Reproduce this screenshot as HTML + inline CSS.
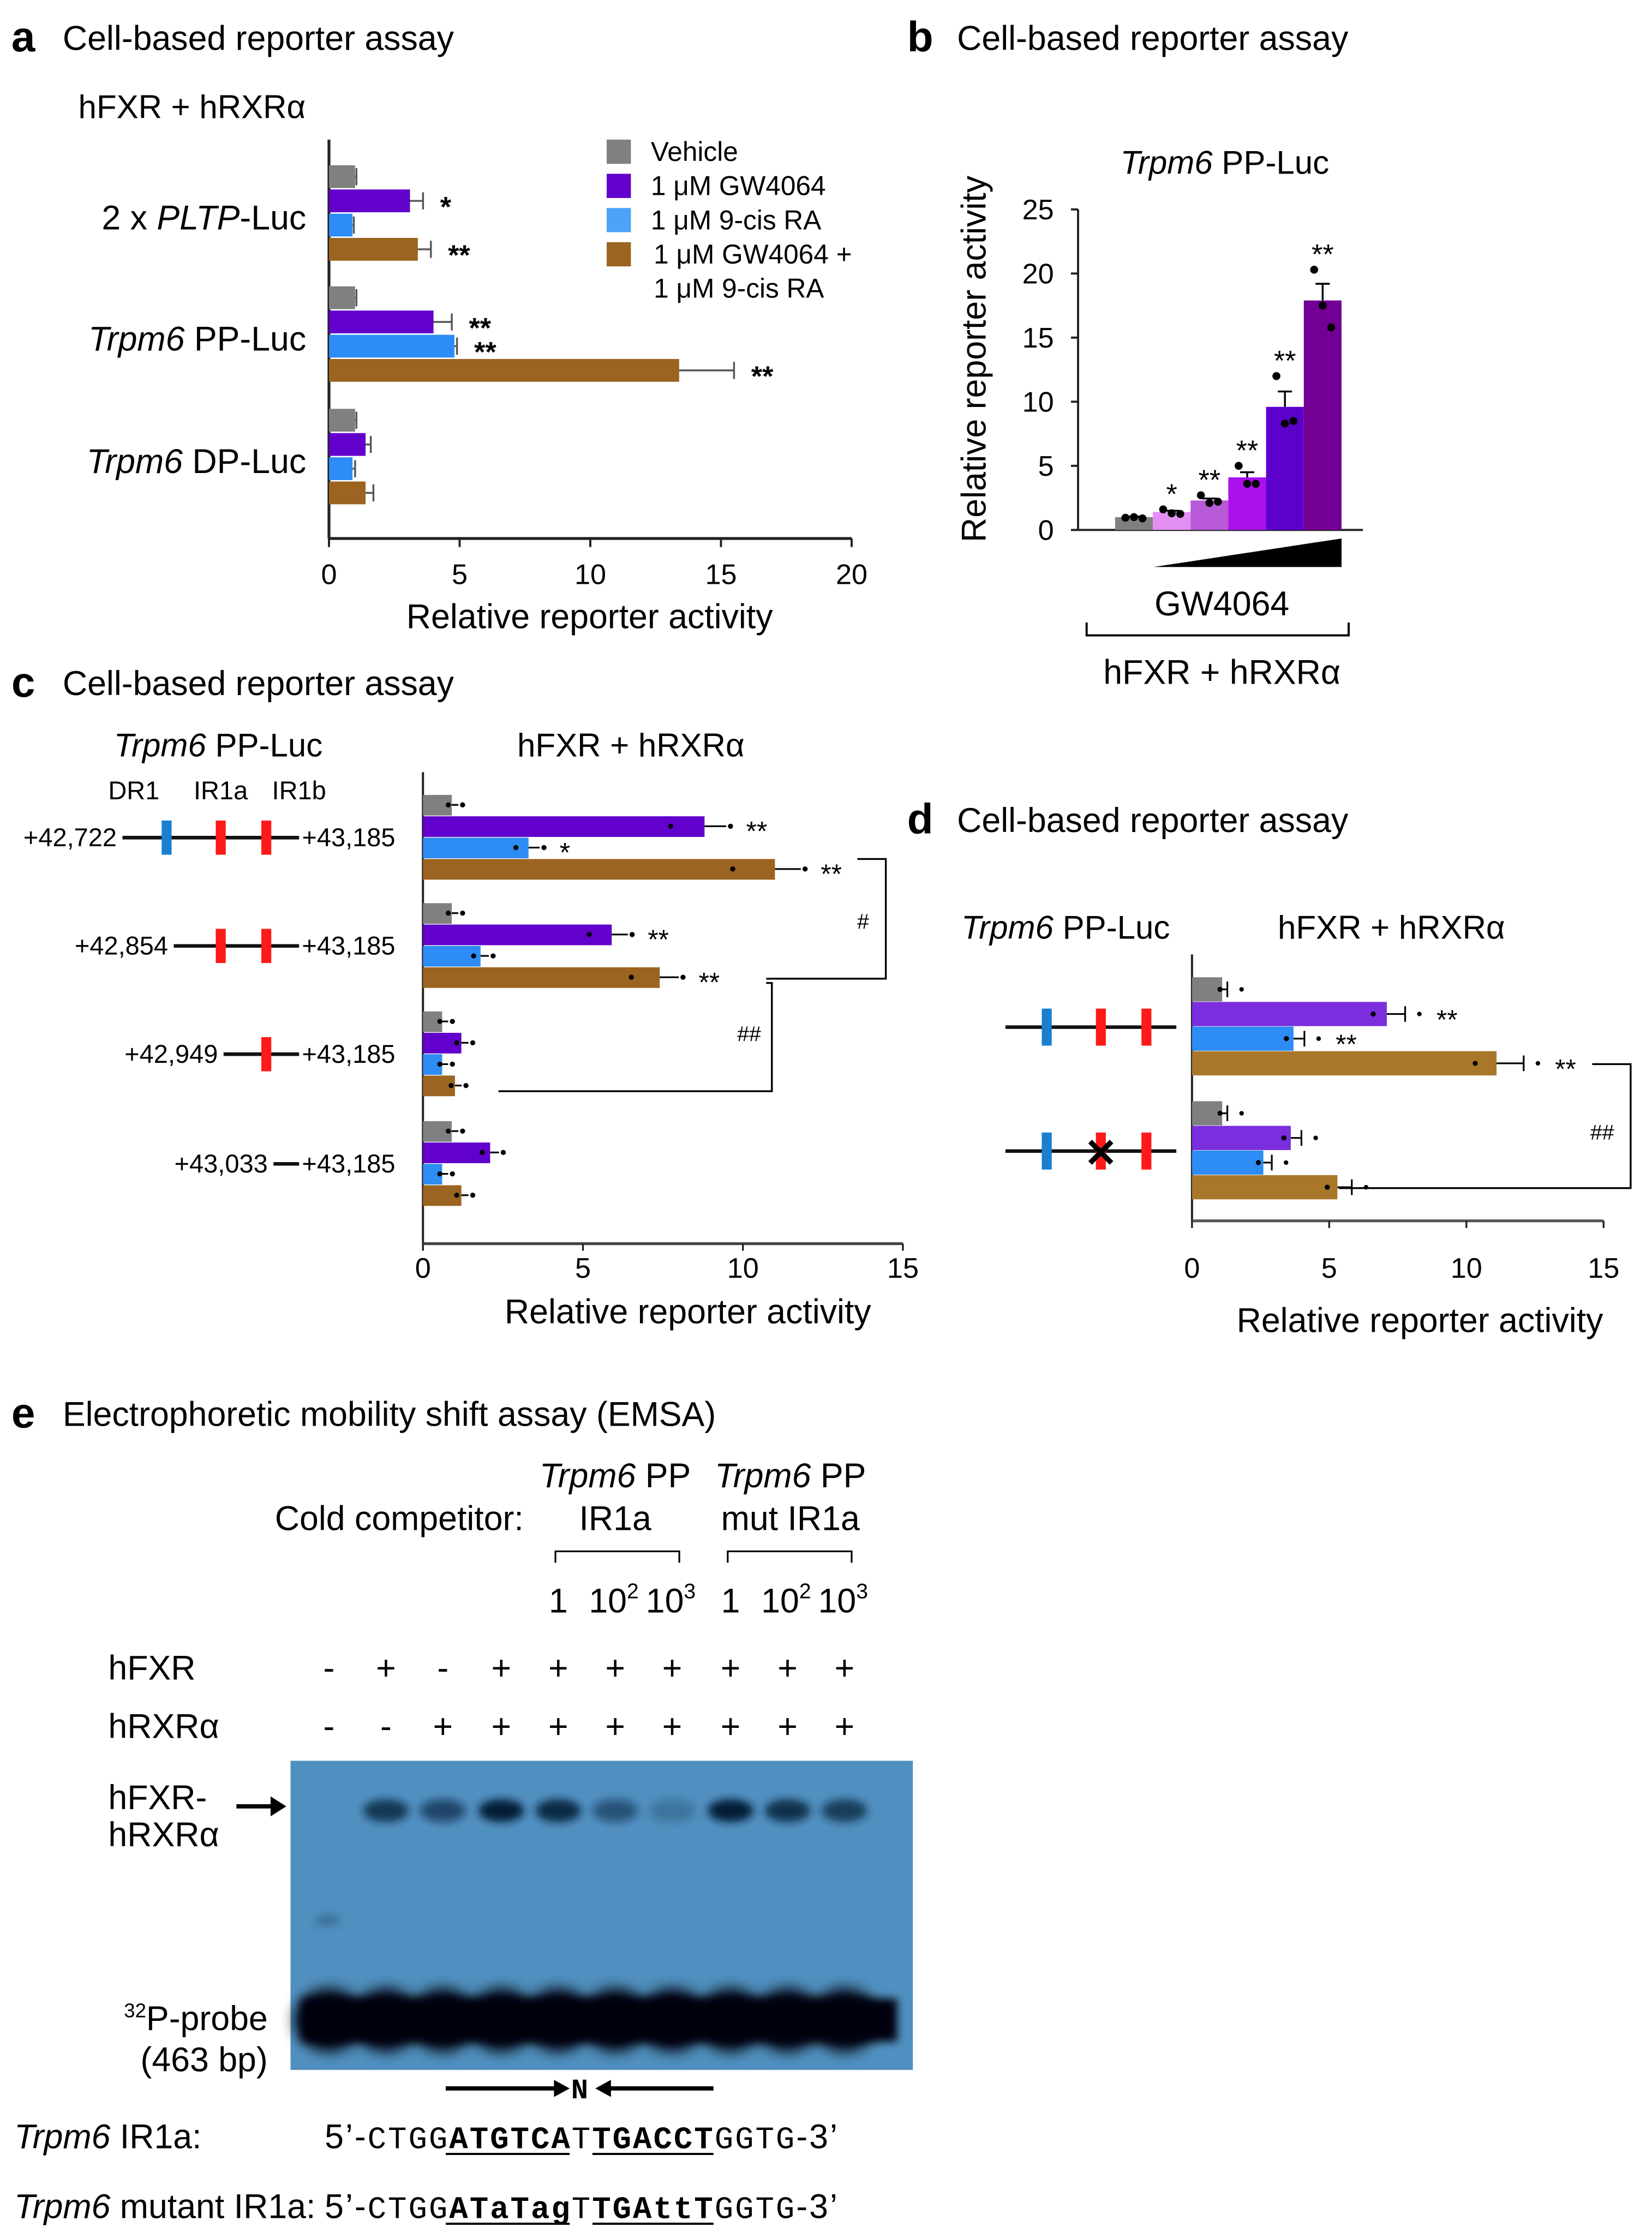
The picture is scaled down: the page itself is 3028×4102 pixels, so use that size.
<!DOCTYPE html>
<html><head><meta charset="utf-8"><style>
html,body{margin:0;padding:0;background:#fff;}
svg{display:block;font-family:"Liberation Sans",Arial,sans-serif;}
</style></head><body>
<svg id="fig" width="3028" height="4102" viewBox="0 0 1160 1571" preserveAspectRatio="none" xmlns="http://www.w3.org/2000/svg">
<defs>
<filter id="blur3" x="-20%" y="-50%" width="140%" height="200%"><feGaussianBlur stdDeviation="3"/></filter>
<filter id="blur5" x="-20%" y="-50%" width="140%" height="200%"><feGaussianBlur stdDeviation="5"/></filter>
</defs>
<g id="root"></g>
</svg>
<script>
// ---------- Panel a data ----------
const aGroups = ["2 x PLTP-Luc","Trpm6 PP-Luc","Trpm6 DP-Luc"];
const aVehicle = [1.0, 1.0, 1.0];
const aGW = [3.1, 4.0, 1.4];
const aRA = [0.9, 4.8, 0.9];
const aCombo = [3.4, 13.4, 1.4];
const aErr = [[1.05,3.6,0.95,3.9],[1.05,4.7,4.9,15.5],[1.05,1.6,1.0,1.7]];
const aStars = [["","*","","**"],["","**","**","**"],["","","",""]];
const aTicks = [0,5,10,15,20];
// ---------- Panel b data ----------
const bValues = [1.0, 1.4, 2.3, 4.1, 9.6, 17.9];
const bErrTop = [1.05, 1.5, 2.45, 4.5, 10.8, 19.2];
const bDots = [[0.95,1.0,0.9],[1.6,1.3,1.25],[2.7,2.1,2.2],[5.0,3.6,3.6],[12.0,8.3,8.5],[20.3,17.5,15.8]];
const bStars = ["","*","**","**","**","**"];
const bTicks = [0,5,10,15,20,25];
// ---------- Panel c data ----------
const cConstructs = ["+42,722","+42,854","+42,949","+43,033"];
const cVehicle = [0.9, 0.9, 0.6, 0.9];
const cGW = [8.8, 5.9, 1.2, 2.1];
const cRA = [3.3, 1.8, 0.6, 0.6];
const cCombo = [11.0, 7.4, 1.0, 1.2];
const cTicks = [0,5,10,15];
// ---------- Panel d data ----------
const dVehicle = [1.1, 1.1];
const dGW = [7.1, 3.6];
const dRA = [3.7, 2.6];
const dCombo = [11.1, 5.3];
const dTicks = [0,5,10,15];
// ---------- Panel e data ----------
const eFXR = ["-","+","-","+","+","+","+","+","+","+"];
const eRXR = ["-","-","+","+","+","+","+","+","+","+"];
const eShift = [0, 0.75, 0.6, 0.95, 0.85, 0.5, 0.25, 0.95, 0.8, 0.7];

const NS="http://www.w3.org/2000/svg";
const root=document.getElementById('root');
function el(tag,attrs,parent,text){const e=document.createElementNS(NS,tag);for(const k in attrs)e.setAttribute(k,attrs[k]);if(text!==undefined)e.textContent=text;(parent||root).appendChild(e);return e;}
function txt(x,y,s,size,anchor,name,extra){const t=el('text',Object.assign({x:x,y:y,'font-size':size,'text-anchor':anchor||'start',fill:'#000'},extra||{}),root,s);


return t;}
function line(x1,y1,x2,y2,name,w,c){const l=el('line',{x1:x1,y1:y1,x2:x2,y2:y2,stroke:c||'#000','stroke-width':w||1.5});


return l;}

// ===== Panel a =====
txt(8,36,"a",30,"start","panel-a-letter",{'font-weight':'bold'});
txt(44,35,"Cell-based reporter assay",24,"start","panel-a-title");
txt(55,83,"hFXR + hRXRα",23,"start","panel-a-subtitle");
const aX0=231,aX1=598,aMax=20,aY=378;
const ax=v=>aX0+(aX1-aX0)*v/aMax;
line(aX0,98,aX0,aY,"a-y-axis",2,'#222');
line(aX0,aY,aX1,aY,"a-x-axis",2,'#222');
aTicks.forEach(t=>{line(ax(t),aY,ax(t),aY+6,"a-x-tick",1.5,'#222');txt(ax(t),410,String(t),20,"middle","a-x-tick-label");});
txt(414,441,"Relative reporter activity",24,"middle","a-x-axis-title");
const aCols=["#808080","#6200cc","#2d8cf5","#9b6420"];
const aSeries=[aVehicle,aGW,aRA,aCombo];
const aGroupTop=[116,201,287];
aGroups.forEach((g,gi)=>{
  const ly=aGroupTop[gi]+45;
  const t=el('text',{x:215,y:ly,'font-size':24,'text-anchor':'end'});
  
  
  if(gi===0){el('tspan',{},t,"2 x ");el('tspan',{'font-style':'italic'},t,"PLTP");el('tspan',{},t,"-Luc");}
  else{el('tspan',{'font-style':'italic'},t,"Trpm6");el('tspan',{},t,gi===1?" PP-Luc":" DP-Luc");}
  aSeries.forEach((s,si)=>{
    const y=aGroupTop[gi]+si*17;
    const r=el('rect',{x:aX0,y:y,width:ax(s[gi])-aX0,height:16,fill:aCols[si]});
    
    
    const e=aErr[gi][si];
    line(ax(s[gi]),y+8,ax(e),y+8,"a-error-bar",1.3,'#555');
    line(ax(e),y+2,ax(e),y+14,"a-error-cap",1.3,'#555');
    if(aStars[gi][si]) txt(ax(e)+12,y+19,aStars[gi][si],20,"start","a-significance",{'font-weight':'bold'});
  });
});
const legItems=[["Vehicle",aCols[0]],["1 μM GW4064",aCols[1]],["1 μM 9-cis RA","#4da3f7"],["1 μM GW4064 +",aCols[3]]];
const legY=[98,122,146,170];
legItems.forEach((li,i)=>{const r=el('rect',{x:426,y:legY[i],width:17,height:17,fill:li[1]});


txt(i===3?459:457,legY[i]+15,li[0],19,"start","legend-entry");});
txt(459,209,"1 μM 9-cis RA",19,"start","legend-entry-cont");

// ===== Panel b =====
txt(637,36,"b",30,"start","panel-b-letter",{'font-weight':'bold'});
txt(672,35,"Cell-based reporter assay",24,"start","panel-b-title");
{const t=el('text',{x:860,y:122,'font-size':23,'text-anchor':'middle'});el('tspan',{'font-style':'italic'},t,"Trpm6");el('tspan',{},t," PP-Luc");}
const bX0=757,bY0=372,bY1=147,bMax=25;
const by=v=>bY0-(bY0-bY1)*v/bMax;
line(bX0,bY1,bX0,bY0,"b-y-axis",1.5,'#222');
line(bX0,bY0,957,bY0,"b-x-axis",1.5,'#222');
bTicks.forEach(t=>{line(bX0-5,by(t),bX0,by(t),"b-y-tick",1.5,'#222');txt(740,by(t)+7,String(t),20,"end","b-y-tick-label");});
{const t=txt(692,252,"Relative reporter activity",24,"middle","b-y-axis-title");t.setAttribute('transform','rotate(-90 692 252)');}
const bCols=["#808080","#e28ef2","#b85ad8","#ac10ec","#5c00cc","#730094"];
bValues.forEach((v,i)=>{
  const x=783+i*26.5,w=26.5;
  const r=el('rect',{x:x,y:by(v),width:w,height:bY0-by(v),fill:bCols[i]});
  
  
  const cx=x+w/2;
  line(cx,by(v),cx,by(bErrTop[i]),"b-error-bar",1.3,'#000');
  line(cx-5,by(bErrTop[i]),cx+5,by(bErrTop[i]),"b-error-cap",1.3,'#000');
  bDots[i].forEach((d,j)=>{const c=el('circle',{cx:cx+(j-1)*6,cy:by(d),r:2.8,fill:'#000'});
  
  });
  const top=Math.max(bErrTop[i],...bDots[i]);
  if(bStars[i]) txt(cx,by(top)-4,bStars[i],20,"middle","b-significance");
});
{const p=el('polygon',{points:"810,398 942,378 942,398",fill:'#000'});}
txt(858,432,"GW4064",24,"middle","b-gw4064-label");
{const p=el('path',{d:"M763,437 V446 H947 V437",fill:'none',stroke:'#000','stroke-width':1.5});}
txt(858,480,"hFXR + hRXRα",24,"middle","b-bottom-label");

// ===== Panel c =====
txt(8,489,"c",30,"start","panel-c-letter",{'font-weight':'bold'});
txt(44,488,"Cell-based reporter assay",24,"start","panel-c-title");
{const t=el('text',{x:80,y:531,'font-size':23});el('tspan',{'font-style':'italic'},t,"Trpm6");el('tspan',{},t," PP-Luc");}
txt(443,531,"hFXR + hRXRα",23,"middle","c-chart-title");
txt(94,561,"DR1",18,"middle","dr1-label");
txt(155,561,"IR1a",18,"middle","ir1a-label");
txt(210,561,"IR1b",18,"middle","ir1b-label");
const cX0=297,cX1=634,cMax=15,cY=873;
const cx_=v=>cX0+(cX1-cX0)*v/cMax;
line(cX0,542,cX0,cY,"c-y-axis",1.5,'#222');
line(cX0,cY,cX1,cY,"c-x-axis",2,'#444');
cTicks.forEach(t=>{line(cx_(t),cY,cx_(t),cY+5,"c-x-tick",1.3,'#222');txt(cx_(t),897,String(t),20,"middle","c-x-tick-label");});
txt(483,929,"Relative reporter activity",24,"middle","c-x-axis-title");
const cCols=["#808080","#6200cc","#2d8cf5","#9b6420"];
const cSeries=[cVehicle,cGW,cRA,cCombo];
const cTop=[558,634,710,787];
const cStar=[["","**","*","**"],["","**","","**"],["","","",""],["","","",""]];
cConstructs.forEach((lab,gi)=>{
  cSeries.forEach((s,si)=>{
    const y=cTop[gi]+si*15;
    const r=el('rect',{x:cX0,y:y,width:cx_(s[gi])-cX0,height:14.5,fill:cCols[si]});
    
    
    const ex=cx_(s[gi]*1.06+0.15);
    line(cx_(s[gi]),y+7,ex,y+7,"c-error-bar",1.2,'#000');
    const d1=el('circle',{cx:cx_(s[gi]*0.88),cy:y+7,r:1.8,fill:'#000'});
    const d2=el('circle',{cx:ex+3,cy:y+7,r:1.8,fill:'#000'});
    if(cStar[gi][si]) txt(ex+14,y+17,cStar[gi][si],19,"start","c-significance");
  });
  const ly=cTop[gi]+30;
  const startX=[86,122,157,192][gi];
  txt(startX-4,ly+6,lab,18,"end","c-construct-start");
  line(startX,ly,210,ly,"c-construct-line",2.5,'#111');
  txt(212,ly+6,"+43,185",18,"start","c-construct-end");
  const boxes=[[["#1a7fcf",117],["#ff1a1a",155],["#ff1a1a",187]],[["#ff1a1a",155],["#ff1a1a",187]],[["#ff1a1a",187]],[]][gi];
  boxes.forEach(b=>{const r=el('rect',{x:b[1]-3.5,y:ly-12,width:7,height:24,fill:b[0]});});
});
{const p=el('path',{d:"M602,603 H622 V687 H538",fill:'none',stroke:'#000','stroke-width':1.3});}
txt(606,652,"#",15,"middle","c-hash");
{const p=el('path',{d:"M538,690 H542 V766 H350",fill:'none',stroke:'#000','stroke-width':1.3});}
txt(526,731,"##",15,"middle","c-double-hash");

// ===== Panel d =====
txt(637,585,"d",30,"start","panel-d-letter",{'font-weight':'bold'});
txt(672,584,"Cell-based reporter assay",24,"start","panel-d-title");
{const t=el('text',{x:675,y:659,'font-size':23});el('tspan',{'font-style':'italic'},t,"Trpm6");el('tspan',{},t," PP-Luc");}
txt(977,659,"hFXR + hRXRα",23,"middle","d-chart-title");
const dX0=837,dX1=1126,dMax=15,dY=857;
const dx=v=>dX0+(dX1-dX0)*v/dMax;
line(dX0,670,dX0,dY,"d-y-axis",1.5,'#222');
line(dX0,dY,dX1,dY,"d-x-axis",2,'#555');
dTicks.forEach(t=>{line(dx(t),dY,dx(t),dY+5,"d-x-tick",1.3,'#222');txt(dx(t),897,String(t),20,"middle","d-x-tick-label");});
txt(997,935,"Relative reporter activity",24,"middle","d-x-axis-title");
const dCols=["#808080","#7a2ede","#2d8cf5","#a8772a"];
const dSeries=[dVehicle,dGW,dRA,dCombo];
const dTop=[686,773];
const dStar=[["","**","**","**"],["","","",""]];
[0,1].forEach(gi=>{
  dSeries.forEach((s,si)=>{
    const y=dTop[gi]+si*17.3;
    const r=el('rect',{x:dX0,y:y,width:dx(s[gi])-dX0,height:17,fill:dCols[si]});
    
    
    const ex=dx(s[gi]*1.08+0.1);
    line(dx(s[gi]),y+8.5,ex,y+8.5,"d-error-bar",1.2,'#000');
    line(ex,y+3,ex,y+14,"d-error-cap",1.2,'#000');
    const d1=el('circle',{cx:dx(s[gi]*0.93),cy:y+8.5,r:1.8,fill:'#000'});
    const d2=el('circle',{cx:ex+10,cy:y+8.5,r:1.6,fill:'#000'});
    if(dStar[gi][si]) txt(ex+22,y+19,dStar[gi][si],19,"start","d-significance");
  });
  const ly=[721,808][gi];
  line(706,ly,826,ly,"d-construct-line",2.5,'#111');
  [["#1a7fcf",735],["#ff1a1a",773],["#ff1a1a",805]].forEach(b=>{const r=el('rect',{x:b[1]-3.5,y:ly-13,width:7,height:26,fill:b[0]});});
  if(gi===1){txt(773,819,"✕",28,"middle","mutation-mark",{'font-weight':'bold'});}
});
{const p=el('path',{d:"M1118,747 H1145 V834 H940",fill:'none',stroke:'#000','stroke-width':1.3});}
txt(1125,800,"##",15,"middle","d-double-hash");

// ===== Panel e =====
txt(8,1002,"e",30,"start","panel-e-letter",{'font-weight':'bold'});
txt(44,1001,"Electrophoretic mobility shift assay (EMSA)",24,"start","panel-e-title");
txt(193,1074,"Cold competitor:",24,"start","cold-competitor-label");
[[432,"IR1a"],[555,"mut IR1a"]].forEach(c=>{
  const t=el('text',{x:c[0],y:1044,'font-size':24,'text-anchor':'middle'});
  el('tspan',{'font-style':'italic'},t,"Trpm6");el('tspan',{},t," PP");
  txt(c[0],1074,c[1],24,"middle","competitor-name-line2");
});
[[390,477],[511,598]].forEach(b=>{const p=el('path',{d:`M${b[0]},1097 V1089 H${b[1]} V1097`,fill:'none',stroke:'#000','stroke-width':1.2});});
const laneX=[231,271,311,352,392,432,472,513,553,593];
const doses=[["1",""],["10","2"],["10","3"]];
[4,5,6,7,8,9].forEach((li,k)=>{const d=doses[k%3];const t=el('text',{x:laneX[li]+(k%3?-1:0),y:1132,'font-size':24,'text-anchor':'middle'});el('tspan',{},t,d[0]);if(d[1])el('tspan',{'font-size':15,dy:-10},t,d[1]);});
txt(76,1179,"hFXR",24,"start","hfxr-row-label");
txt(76,1220,"hRXRα",24,"start","hrxr-row-label");
laneX.forEach((x,i)=>{txt(x,1179,eFXR[i],24,"middle","hfxr-lane-sign");txt(x,1220,eRXR[i],24,"middle","hrxr-lane-sign");});
{const r=el('rect',{x:204,y:1236,width:437,height:217,fill:'#5090c0'});}
eShift.forEach((s,i)=>{if(s>0){const e=el('ellipse',{cx:laneX[i],cy:1271,rx:16,ry:8,fill:'#001830','fill-opacity':s,filter:'url(#blur3)'});}});
{const e=el('ellipse',{cx:230,cy:1348,rx:9,ry:4,fill:'#2a5070','fill-opacity':0.5,filter:'url(#blur3)'});}
laneX.forEach((x,i)=>{const e=el('ellipse',{cx:x,cy:1418,rx:24,ry:22,fill:'#000511',filter:'url(#blur5)'});});
{const r=el('rect',{x:212,y:1403,width:418,height:30,fill:'#000511',filter:'url(#blur3)'});}
txt(76,1270,"hFXR-",24,"start","complex-label-1");
txt(76,1296,"hRXRα",24,"start","complex-label-2");
line(166,1268,193,1268,"complex-arrow",3,'#000');
{const p=el('polygon',{points:"201,1268 190,1261 190,1275",fill:'#000'});}
{const t=el('text',{x:188,y:1425,'font-size':24,'text-anchor':'end'});el('tspan',{'font-size':14,dy:-9},t,"32");el('tspan',{dy:9},t,"P-probe");}
txt(188,1454,"(463 bp)",24,"end","probe-size-label");
line(313,1466,392,1466,"half-site-arrow-left",3,'#000');
{const p=el('polygon',{points:"400,1466 389,1460 389,1472",fill:'#000'});}
txt(407,1473,"N",20,"middle","spacer-n",{'font-family':'Liberation Mono, monospace','font-weight':'bold'});
line(426,1466,501,1466,"half-site-arrow-right",3,'#000');
{const p=el('polygon',{points:"418,1466 429,1460 429,1472",fill:'#000'});}
function seqLine(y,label,parts,name){
  const l=el('text',{x:10,y:y,'font-size':24});
  el('tspan',{'font-style':'italic'},l,"Trpm6");el('tspan',{},l,label);
  const t=el('text',{x:228,y:y,'font-size':24,textLength:360,lengthAdjust:'spacing'});
  el('tspan',{},t,"5’-");
  parts.forEach(p=>{el('tspan',{'font-family':'Liberation Mono, monospace','font-size':22,'font-weight':p[1]?'bold':'normal'},t,p[0]);});
  el('tspan',{},t,"-3’");
}
seqLine(1508," IR1a:",[["CTGG",0],["ATGTCA",1],["T",0],["TGACCT",1],["GGTG",0]],"wt-ir1a");
seqLine(1557," mutant IR1a:",[["CTGG",0],["ATaTag",1],["T",0],["TGAttT",1],["GGTG",0]],"mut-ir1a");
[[1512,313,400],[1512,416,501],[1561,313,400],[1561,416,501]].forEach(u=>line(u[1],u[0],u[2],u[0],"sequence-underline",1.5,'#000'));
</script>
</body></html>
